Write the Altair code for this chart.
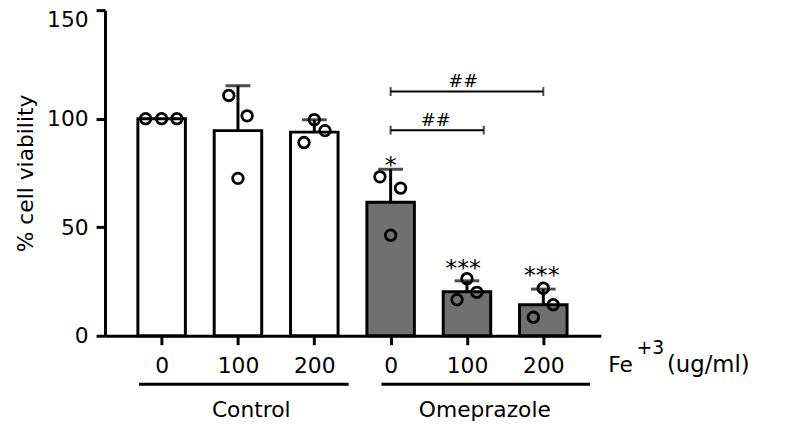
import altair as alt
import pandas as pd

# ---- data ----
groups = ["Control", "Control", "Control", "Omeprazole", "Omeprazole", "Omeprazole"]
doses = ["0", "100", "200", "0", "100", "200"]
means = [100, 94.5, 93.8, 61.5, 20.3, 14.3]
sds = [0, 20.7, 5.7, 15.2, 5.0, 7.2]

point_bar = [0, 0, 0, 1, 1, 1, 2, 2, 2, 3, 3, 3, 4, 4, 4, 5, 5, 5]
point_values = [100, 100, 100, 110.7, 101.3, 72.5, 99.5, 94.5, 89.0,
                73.2, 68.0, 46.3, 26.3, 20.0, 16.6, 21.9, 14.3, 8.5]
point_jitter = [-0.21, 0, 0.2, -0.12, 0.12, 0, 0, 0.14, -0.135,
                -0.14, 0.13, 0, 0, 0.13, -0.13, 0, 0.13, -0.13]

# significance brackets (##) between Omeprazole 0 and the Fe+3 groups
bracket_labels = ["##", "##"]
bracket_start = [3.0, 3.0]
bracket_end = [5.0, 4.22]
bracket_level = [112.5, 94.7]
bracket_label_x = [3.95, 3.59]
bracket_label_y = [114.5, 96.5]

# asterisks vs control
star_labels = ["*", "***", "***"]
star_x = [3.0, 3.95, 4.98]
star_y = [74.9, 27.7, 24.5]

# group labels under the axis
group_names = ["Control", "Omeprazole"]
group_line_start = [-0.296, 2.88]
group_line_end = [2.449, 5.612]
group_label_x = [1.174, 4.234]
group_line_y = -22.3
group_label_y = -37.4

# unit label Fe+3 (ug/ml)
unit_texts = ["Fe", "+3", "(ug/ml)"]
unit_x = [5.85, 6.22, 6.62]
unit_y = [-16.9, -8.4, -16.9]
unit_size = [22, 19, 23]

FONT = "DejaVu Sans"
GRAY = "#707070"

bars_df = pd.DataFrame({"idx": list(range(6)), "group": groups, "dose": doses,
                        "mean": means, "sd": sds})
pts_df = pd.DataFrame({"bar": point_bar, "value": point_values, "jit": point_jitter})
br_df = pd.DataFrame({"label": bracket_labels, "x1": bracket_start, "x2": bracket_end,
                      "lvl": bracket_level, "lx": bracket_label_x, "ly": bracket_label_y})
st_df = pd.DataFrame({"label": star_labels, "x": star_x, "y": star_y})
gr_df = pd.DataFrame({"name": group_names, "x1": group_line_start, "x2": group_line_end,
                      "lx": group_label_x, "ly": [group_label_y] * 2, "yl": [group_line_y] * 2})
un_df = pd.DataFrame({"t": unit_texts, "x": unit_x, "y": unit_y, "s": unit_size})

xs = alt.Scale(domain=[-0.677, 5.689], nice=False, zero=False)
ys = alt.Scale(domain=[0, 150], nice=False, zero=True)

label_expr = "[" + ",".join("'%s'" % d for d in doses) + "][datum.value]"

x_axis = alt.Axis(values=list(range(6)), labelExpr=label_expr, title=None,
                  domainWidth=3, domainColor="black", tickWidth=3, tickSize=9,
                  tickColor="black", labelFont=FONT, labelFontSize=22, labelColor="black",
                  labelBaseline="alphabetic", labelPadding=28, grid=False, labelAngle=0)
y_axis = alt.Axis(values=[0, 50, 100, 150], title="% cell viability",
                  domainWidth=3, domainColor="black", tickWidth=3, tickSize=9,
                  tickColor="black", labelFont=FONT, labelFontSize=22, labelColor="black",
                  labelPadding=8, grid=False,
                  labelBaseline={"condition": {"test": "datum.value === 150", "value": "top"},
                                 "value": "middle"},
                  titleFont=FONT, titleFontSize=22, titleFontWeight="normal",
                  titleColor="black", titleAngle=270, titleAlign="center",
                  titleBaseline="alphabetic", titleX=-73, titleY=164.5)


def X(field):
    return alt.X(field, scale=xs, axis=x_axis)


def Y(field):
    return alt.Y(field, scale=ys, axis=y_axis)


bars = alt.Chart(bars_df).mark_bar(size=48, stroke="black", strokeWidth=3).encode(
    x=X("idx:Q"),
    y=Y("mean:Q"),
    fill=alt.Fill("group:N", scale=alt.Scale(domain=["Control", "Omeprazole"],
                                             range=["white", GRAY]), legend=None),
)

err_base = alt.Chart(bars_df).transform_filter("datum.sd > 0").transform_calculate(
    upper="datum.mean + datum.sd")
err = err_base.mark_rule(strokeWidth=3, color="black").encode(
    x=X("idx:Q"), y=Y("mean:Q"), y2="upper:Q",
)
caps = err_base.mark_tick(orient="horizontal", size=25, thickness=3, color="black").encode(
    x=X("idx:Q"), y=Y("upper:Q"),
)

points = alt.Chart(pts_df).transform_calculate(px="datum.bar + datum.jit").mark_point(
    shape="circle", filled=False, size=115, stroke="black", strokeWidth=2.8, opacity=1
).encode(
    x=X("px:Q"), y=Y("value:Q"),
)

br_lines = alt.Chart(br_df).mark_rule(strokeWidth=2, color="black").encode(
    x=X("x1:Q"), x2="x2:Q", y=Y("lvl:Q"),
)
br_end1 = alt.Chart(br_df).mark_tick(orient="vertical", size=9, thickness=2, color="black").encode(
    x=X("x1:Q"), y=Y("lvl:Q"))
br_end2 = alt.Chart(br_df).mark_tick(orient="vertical", size=9, thickness=2, color="black").encode(
    x=X("x2:Q"), y=Y("lvl:Q"))
br_text = alt.Chart(br_df).mark_text(font=FONT, fontSize=18, align="center",
                                     baseline="alphabetic", color="black").encode(
    x=X("lx:Q"), y=Y("ly:Q"), text="label:N")

stars = alt.Chart(st_df).mark_text(font=FONT, fontSize=24, align="center",
                                   baseline="alphabetic", color="black").encode(
    x=X("x:Q"), y=Y("y:Q"), text="label:N")

gr_lines = alt.Chart(gr_df).mark_rule(strokeWidth=3, color="black").encode(
    x=X("x1:Q"), x2="x2:Q", y=Y("yl:Q"))
gr_text = alt.Chart(gr_df).mark_text(font=FONT, fontSize=22, align="center",
                                     baseline="alphabetic", color="black").encode(
    x=X("lx:Q"), y=Y("ly:Q"), text="name:N")

un_text = alt.Chart(un_df).mark_text(font=FONT, align="left", baseline="alphabetic",
                                     color="black").encode(
    x=X("x:Q"), y=Y("y:Q"),
    text="t:N", size=alt.Size("s:Q", scale=None, legend=None))

chart = alt.layer(
    bars, err, caps, points, br_lines, br_end1, br_end2, br_text, stars,
    gr_lines, gr_text, un_text
).properties(
    width=501, height=329,
    autosize=alt.AutoSizeParams(type="none"),
    padding={"left": 98, "top": 0, "right": 180, "bottom": 87},
    background="white",
).configure_view(stroke=None)

chart.save("out.html", embed_options={"renderer": "svg", "actions": False})
